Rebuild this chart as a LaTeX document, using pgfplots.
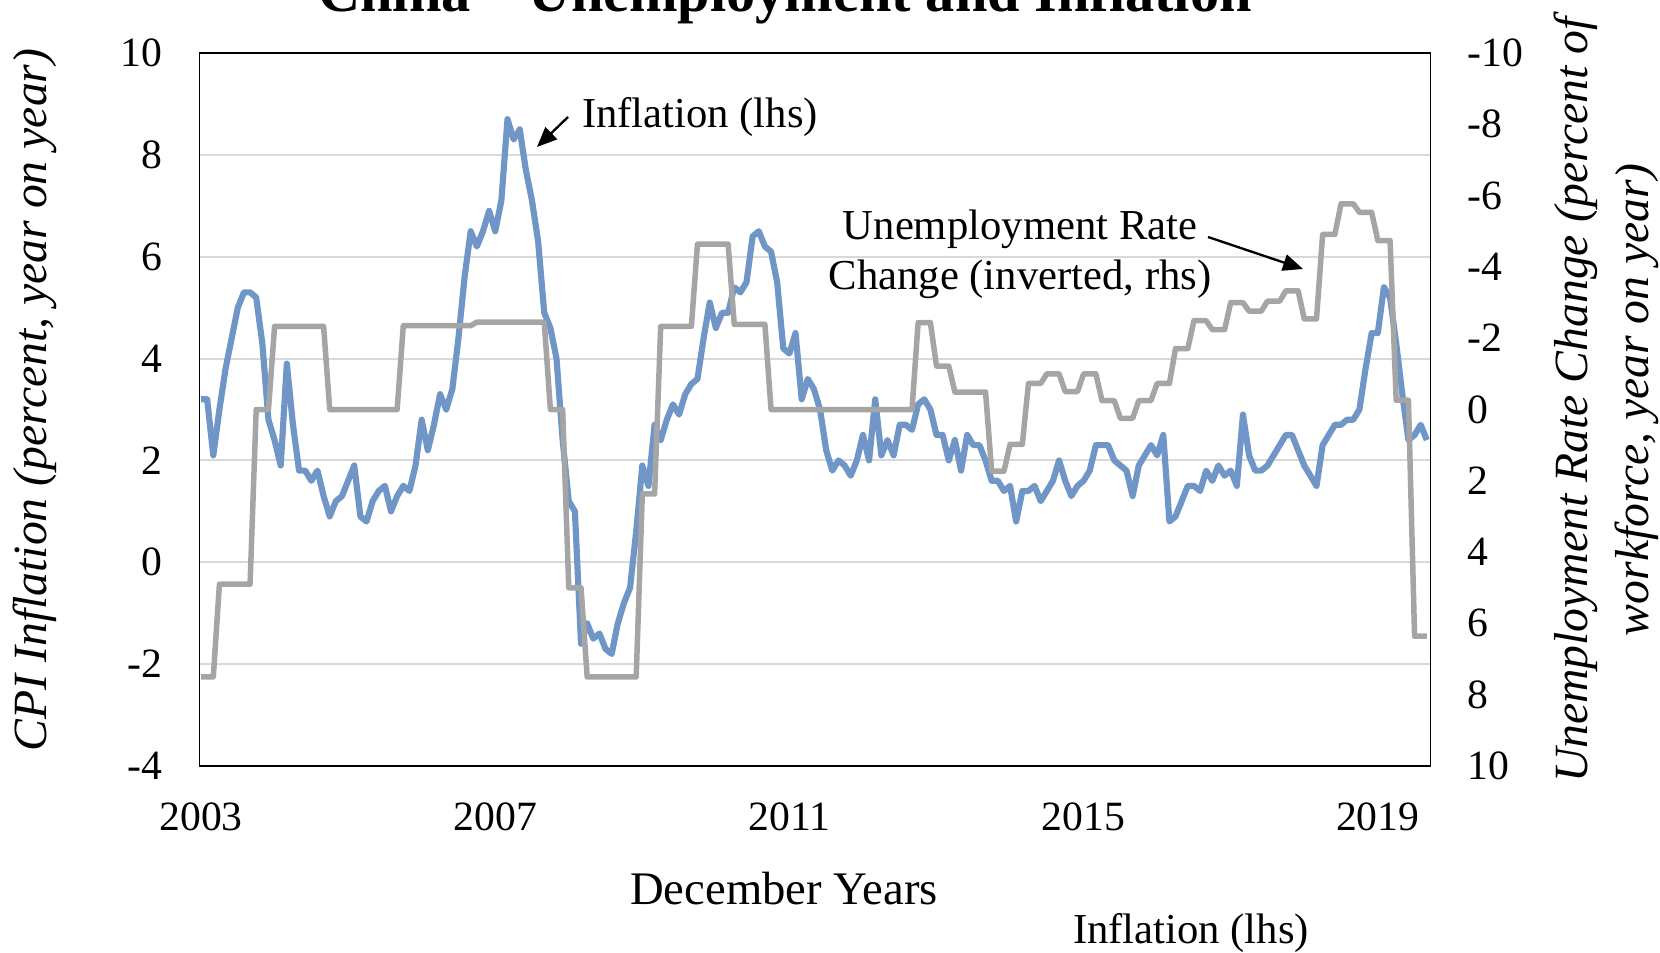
\documentclass[border=0pt]{standalone}
\usepackage{fontspec}
\setmainfont{Liberation Serif}
\usepackage{pgfplots}
\pgfplotsset{compat=1.18}
\usetikzlibrary{arrows.meta}
\definecolor{cpiblue}{RGB}{112,150,200}
\definecolor{unempgrey}{RGB}{165,165,165}
\definecolor{gridgrey}{RGB}{217,217,217}
\begin{document}
\begin{tikzpicture}
\begin{axis}[
  at={(59.85pt,-229.8pt)}, anchor=south west,
  width=369.3pt, height=213.9pt, scale only axis,
  xmin=-0.25, xmax=200.6, ymin=-4, ymax=10,
  xtick={0,48,96,144,192}, xticklabels={2003,2007,2011,2015,2019},
  ytick={-4,-2,0,2,4,6,8,10}, yticklabels={-4,-2,0,2,4,6,8,10},
  ymajorgrids, grid style={gridgrey, line width=0.6pt},
  major tick length=0pt, tick style={draw=none},
  axis line style={black, line width=0.5pt},
  tick label style={font=\fontsize{12.5}{15}\selectfont},
  xticklabel style={anchor=base, yshift=-19.5pt, inner sep=0pt},
  yticklabel style={anchor=east, xshift=-11pt, inner sep=0pt},
]
\addplot[cpiblue, line width=1.85pt, line join=round] coordinates {
(0,3.2)
(1,3.2)(2,2.1)(3,3.0)(4,3.8)(5,4.4)(6,5.0)(7,5.3)(8,5.3)(9,5.2)(10,4.3)(11,2.8)(12,2.4)
(13,1.9)(14,3.9)(15,2.7)(16,1.8)(17,1.8)(18,1.6)(19,1.8)(20,1.3)(21,0.9)(22,1.2)(23,1.3)(24,1.6)
(25,1.9)(26,0.9)(27,0.8)(28,1.2)(29,1.4)(30,1.5)(31,1.0)(32,1.3)(33,1.5)(34,1.4)(35,1.9)(36,2.8)
(37,2.2)(38,2.7)(39,3.3)(40,3.0)(41,3.4)(42,4.4)(43,5.6)(44,6.5)(45,6.2)(46,6.5)(47,6.9)(48,6.5)
(49,7.1)(50,8.7)(51,8.3)(52,8.5)(53,7.7)(54,7.1)(55,6.3)(56,4.9)(57,4.6)(58,4.0)(59,2.4)(60,1.2)
(61,1.0)(62,-1.6)(63,-1.2)(64,-1.5)(65,-1.4)(66,-1.7)(67,-1.8)(68,-1.2)(69,-0.8)(70,-0.5)(71,0.6)(72,1.9)
(73,1.5)(74,2.7)(75,2.4)(76,2.8)(77,3.1)(78,2.9)(79,3.3)(80,3.5)(81,3.6)(82,4.4)(83,5.1)(84,4.6)
(85,4.9)(86,4.9)(87,5.4)(88,5.3)(89,5.5)(90,6.4)(91,6.5)(92,6.2)(93,6.1)(94,5.5)(95,4.2)(96,4.1)
(97,4.5)(98,3.2)(99,3.6)(100,3.4)(101,3.0)(102,2.2)(103,1.8)(104,2.0)(105,1.9)(106,1.7)(107,2.0)(108,2.5)
(109,2.0)(110,3.2)(111,2.1)(112,2.4)(113,2.1)(114,2.7)(115,2.7)(116,2.6)(117,3.1)(118,3.2)(119,3.0)(120,2.5)
(121,2.5)(122,2.0)(123,2.4)(124,1.8)(125,2.5)(126,2.3)(127,2.3)(128,2.0)(129,1.6)(130,1.6)(131,1.4)(132,1.5)
(133,0.8)(134,1.4)(135,1.4)(136,1.5)(137,1.2)(138,1.4)(139,1.6)(140,2.0)(141,1.6)(142,1.3)(143,1.5)(144,1.6)
(145,1.8)(146,2.3)(147,2.3)(148,2.3)(149,2.0)(150,1.9)(151,1.8)(152,1.3)(153,1.9)(154,2.1)(155,2.3)(156,2.1)
(157,2.5)(158,0.8)(159,0.9)(160,1.2)(161,1.5)(162,1.5)(163,1.4)(164,1.8)(165,1.6)(166,1.9)(167,1.7)(168,1.8)
(169,1.5)(170,2.9)(171,2.1)(172,1.8)(173,1.8)(174,1.9)(175,2.1)(176,2.3)(177,2.5)(178,2.5)(179,2.2)(180,1.9)
(181,1.7)(182,1.5)(183,2.3)(184,2.5)(185,2.7)(186,2.7)(187,2.8)(188,2.8)(189,3.0)(190,3.8)(191,4.5)(192,4.5)
(193,5.4)(194,5.2)(195,4.3)(196,3.3)(197,2.4)(198,2.5)(199,2.7)(200,2.4)
};
\end{axis}
\begin{axis}[
  at={(59.85pt,-229.8pt)}, anchor=south west,
  width=369.3pt, height=213.9pt, scale only axis,
  xmin=-0.25, xmax=200.6, ymin=-10, ymax=10, y dir=reverse,
  hide x axis, axis y line*=right,
  ytick={-10,-8,-6,-4,-2,0,2,4,6,8,10},
  yticklabels={-10,-8,-6,-4,-2,0,2,4,6,8,10},
  major tick length=0pt, tick style={draw=none},
  axis line style={black, line width=0.5pt},
  tick label style={font=\fontsize{12.5}{15}\selectfont},
  yticklabel style={anchor=west, xshift=11pt, inner sep=0pt},
]
\addplot[unempgrey, line width=1.65pt, line join=round] coordinates {
(0,7.5)(2,7.5)(3,4.9)(8,4.9)(9,0)(11,0)(12,-2.33)(20,-2.33)(21,0)(32,0)
(33,-2.35)(44,-2.35)(45,-2.45)(56,-2.45)(57,0)(59,0)(60,5.0)(62,5.0)(63,7.5)(71,7.5)
(72,2.37)(74,2.37)(75,-2.33)(80,-2.33)(81,-4.64)(86,-4.64)(87,-2.39)(92,-2.39)(93,0)(116,0)
(117,-2.44)(119,-2.44)(120,-1.22)(122,-1.22)(123,-0.49)(128,-0.49)(129,1.73)(131,1.73)
(132,0.98)(134,0.98)(135,-0.73)(137,-0.73)(138,-1.0)(140,-1.0)(141,-0.5)(143,-0.5)
(144,-1.0)(146,-1.0)(147,-0.25)(149,-0.25)(150,0.25)(152,0.25)(153,-0.25)(155,-0.25)
(156,-0.73)(158,-0.73)(159,-1.71)(161,-1.71)(162,-2.49)(164,-2.49)(165,-2.24)(167,-2.24)
(168,-3.0)(170,-3.0)(171,-2.76)(173,-2.76)(174,-3.04)(176,-3.04)(177,-3.33)(179,-3.33)
(180,-2.54)(182,-2.54)(183,-4.91)(185,-4.91)(186,-5.77)(188,-5.77)(189,-5.53)(191,-5.53)
(192,-4.74)(194,-4.74)(195,-0.26)(197,-0.26)(198,6.36)(200,6.36)
};
\end{axis}
\begin{scope}[x=0.3pt,y=-0.3pt]
\node[font=\bfseries\fontsize{17.5}{21}\selectfont, anchor=base] at (785,12) {China -- Unemployment and Inflation};
\node[font=\itshape\fontsize{14.3}{17}\selectfont, rotate=90] at (35,400) {CPI Inflation (percent, year on year)};
\node[font=\itshape\fontsize{14.3}{18.3}\selectfont, rotate=90, align=center] at (1606,400) {Unemployment Rate Change (percent of\\workforce, year on year)};
\node[font=\fontsize{14}{17}\selectfont, anchor=base] at (784,904) {December Years};
\node[font=\fontsize{12.8}{15}\selectfont, anchor=base] at (1191,943) {Inflation (lhs)};
\node[font=\fontsize{12.8}{15}\selectfont, anchor=base] at (700,128) {Inflation (lhs)};
\node[font=\fontsize{12.8}{15}\selectfont, anchor=base] at (1020,240) {Unemployment Rate};
\node[font=\fontsize{12.8}{15}\selectfont, anchor=base] at (1020,290) {Change (inverted, rhs)};
\draw[-{Triangle[length=6pt,width=5pt]}, line width=0.7pt] (568,117) -- (537,147);
\draw[-{Triangle[length=6pt,width=5pt]}, line width=0.7pt] (1208,237) -- (1303,269);
\pgfresetboundingbox
\path[use as bounding box] (0,0) rectangle (1660,953);
\end{scope}
\end{tikzpicture}
\end{document}
